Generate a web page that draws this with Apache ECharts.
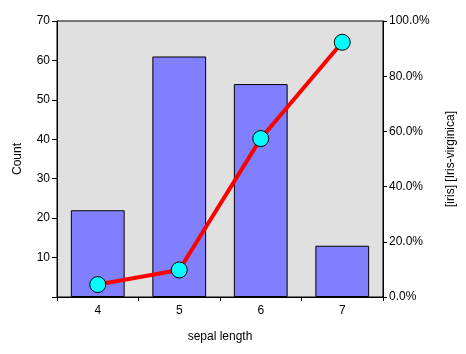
<!DOCTYPE html>
<html><head><meta charset="utf-8">
<script src="https://cdn.jsdelivr.net/npm/echarts@6/dist/echarts.min.js"></script>
<style>html,body{margin:0;padding:0;background:#fff}#c{width:466px;height:354px}</style>
</head><body><div id="c"></div>
<script>
var categories = ['4', '5', '6', '7'];
var counts = [22, 61, 54, 13];
var virginicaPct = [4.5, 9.8, 57.4, 92.3];
var leftTicks = {min: 0, max: 70, interval: 10};
var rightTicks = {min: 0, max: 100, interval: 20};

var font = 'Liberation Sans, Arial, sans-serif';
var chart = echarts.init(document.getElementById('c'), null, {renderer: 'canvas'});
chart.setOption({
  animation: false,
  backgroundColor: '#ffffff',
  textStyle: {fontFamily: font},
  grid: {left: 57, right: 83, top: 21, bottom: 57, show: true, backgroundColor: '#e0e0e0', borderColor: '#000', borderWidth: 1},
  xAxis: {
    type: 'category', data: categories,
    name: 'sepal length', nameLocation: 'middle', nameGap: 34,
    nameTextStyle: {color: '#000', fontSize: 12, fontFamily: font},
    axisLine: {lineStyle: {color: '#000'}},
    axisTick: {show: true, length: 4, lineStyle: {color: '#000'}},
    axisLabel: {color: '#000', fontSize: 12, margin: 8, fontFamily: font},
    splitLine: {show: false}
  },
  yAxis: [{
    type: 'value', position: 'left', min: leftTicks.min, max: leftTicks.max, interval: leftTicks.interval,
    name: 'Count', nameLocation: 'middle', nameGap: 33, nameRotate: 90,
    nameTextStyle: {color: '#000', fontSize: 12, fontFamily: font},
    axisLine: {show: true, lineStyle: {color: '#000'}},
    axisTick: {show: true, length: 5, lineStyle: {color: '#000'}},
    axisLabel: {color: '#000', fontSize: 12, margin: 7, fontFamily: font, formatter: function (v) { return v === 0 ? '' : String(v); }},
    splitLine: {show: false}
  }, {
    type: 'value', position: 'right', min: rightTicks.min, max: rightTicks.max, interval: rightTicks.interval,
    name: '[iris] [Iris-virginica]', nameLocation: 'middle', nameGap: 62, nameRotate: 90,
    nameTextStyle: {color: '#000', fontSize: 12, fontFamily: font},
    axisLine: {show: true, lineStyle: {color: '#000'}},
    axisTick: {show: true, length: 4, lineStyle: {color: '#000'}},
    axisLabel: {color: '#000', fontSize: 12, margin: 6, fontFamily: font, formatter: function (v) { return v.toFixed(1) + '%'; }},
    splitLine: {show: false}
  }],
  series: [{
    type: 'bar', data: counts, yAxisIndex: 0, barCategoryGap: '34%',
    itemStyle: {color: '#8080ff', borderColor: '#000', borderWidth: 1}
  }, {
    type: 'line', data: virginicaPct, yAxisIndex: 1,
    lineStyle: {color: '#ff0000', width: 4},
    symbol: 'circle', symbolSize: 16,
    itemStyle: {color: '#00ffff', borderColor: '#000', borderWidth: 1}
  }]
});
</script></body></html>
